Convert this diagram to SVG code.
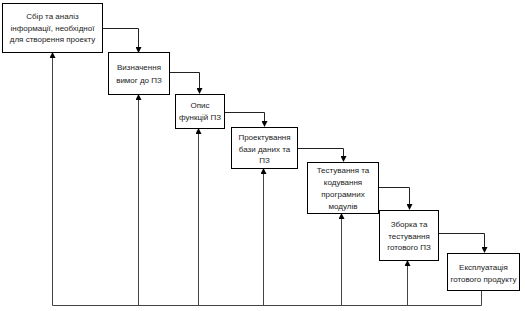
<svg xmlns="http://www.w3.org/2000/svg" width="525" height="311" viewBox="0 0 525 311">
<defs>
<marker id="arr" markerWidth="6" markerHeight="6" refX="5" refY="3" orient="auto" markerUnits="userSpaceOnUse">
<path d="M0,0 L6,3 L0,6 Z" fill="#000"/>
</marker>
<style>
.box{fill:#fff;stroke:#000;stroke-width:1}
.t{font-family:"Liberation Sans",Arial,sans-serif;font-size:8px;fill:#222;text-anchor:middle}
.c{fill:none;stroke:#222;stroke-width:1}
.f{fill:none;stroke:#444;stroke-width:1}
</style>
</defs>
<rect width="525" height="311" fill="#fff"/>
<g id="connectors">
<path class="c" d="M102,28.5 H138.5 V52" marker-end="url(#arr)"/>
<path class="c" d="M169,72.5 H199.5 V93" marker-end="url(#arr)"/>
<path class="c" d="M224,112.5 H264.5 V126" marker-end="url(#arr)"/>
<path class="c" d="M297,148.5 H343.5 V161" marker-end="url(#arr)"/>
<path class="c" d="M378,187.5 H409.5 V209" marker-end="url(#arr)"/>
<path class="c" d="M438,233.5 H484.5 V252" marker-end="url(#arr)"/>
<path class="f" d="M481.5,290 V305.5 H52.5"/>
<path class="f" d="M52.5,305.5 V53" marker-end="url(#arr)"/>
<path class="f" d="M138.5,305.5 V95" marker-end="url(#arr)"/>
<path class="f" d="M198.5,305.5 V129" marker-end="url(#arr)"/>
<path class="f" d="M263.5,305.5 V169" marker-end="url(#arr)"/>
<path class="f" d="M341.5,305.5 V214" marker-end="url(#arr)"/>
<path class="f" d="M407.5,305.5 V261" marker-end="url(#arr)"/>
</g>
<g id="n1">
<rect class="box" x="2.5" y="3.5" width="100" height="49"/>
<text class="t" x="52.5" y="19">Сбір та аналіз</text>
<text class="t" x="52.5" y="30.5">інформації, необхідної</text>
<text class="t" x="52.5" y="42">для створення проекту</text>
</g>
<g id="n2">
<rect class="box" x="108.5" y="52.5" width="61" height="42"/>
<text class="t" x="139" y="70">Визначення</text>
<text class="t" x="139" y="82.5">вимог до ПЗ</text>
</g>
<g id="n3">
<rect class="box" x="175.5" y="94.5" width="49" height="34"/>
<text class="t" x="200" y="108">Опис</text>
<text class="t" x="200" y="119.5">функцій ПЗ</text>
</g>
<g id="n4">
<rect class="box" x="231.5" y="127.5" width="66" height="41"/>
<text class="t" x="264.5" y="140">Проектування</text>
<text class="t" x="264.5" y="151.5">бази даних та</text>
<text class="t" x="264.5" y="163">ПЗ</text>
</g>
<g id="n5">
<rect class="box" x="307.5" y="162.5" width="71" height="51"/>
<text class="t" x="343" y="173">Тестування та</text>
<text class="t" x="343" y="185">кодування</text>
<text class="t" x="343" y="197">програмних</text>
<text class="t" x="343" y="208.5">модулів</text>
</g>
<g id="n6">
<rect class="box" x="379.5" y="210.5" width="59" height="50"/>
<text class="t" x="409" y="227">Зборка та</text>
<text class="t" x="409" y="239">тестування</text>
<text class="t" x="409" y="249.5">готового ПЗ</text>
</g>
<g id="n7">
<rect class="box" x="447.5" y="253.5" width="72" height="37"/>
<text class="t" x="483.5" y="270">Експлуатація</text>
<text class="t" x="483.5" y="281.5">готового продукту</text>
</g>
</svg>
